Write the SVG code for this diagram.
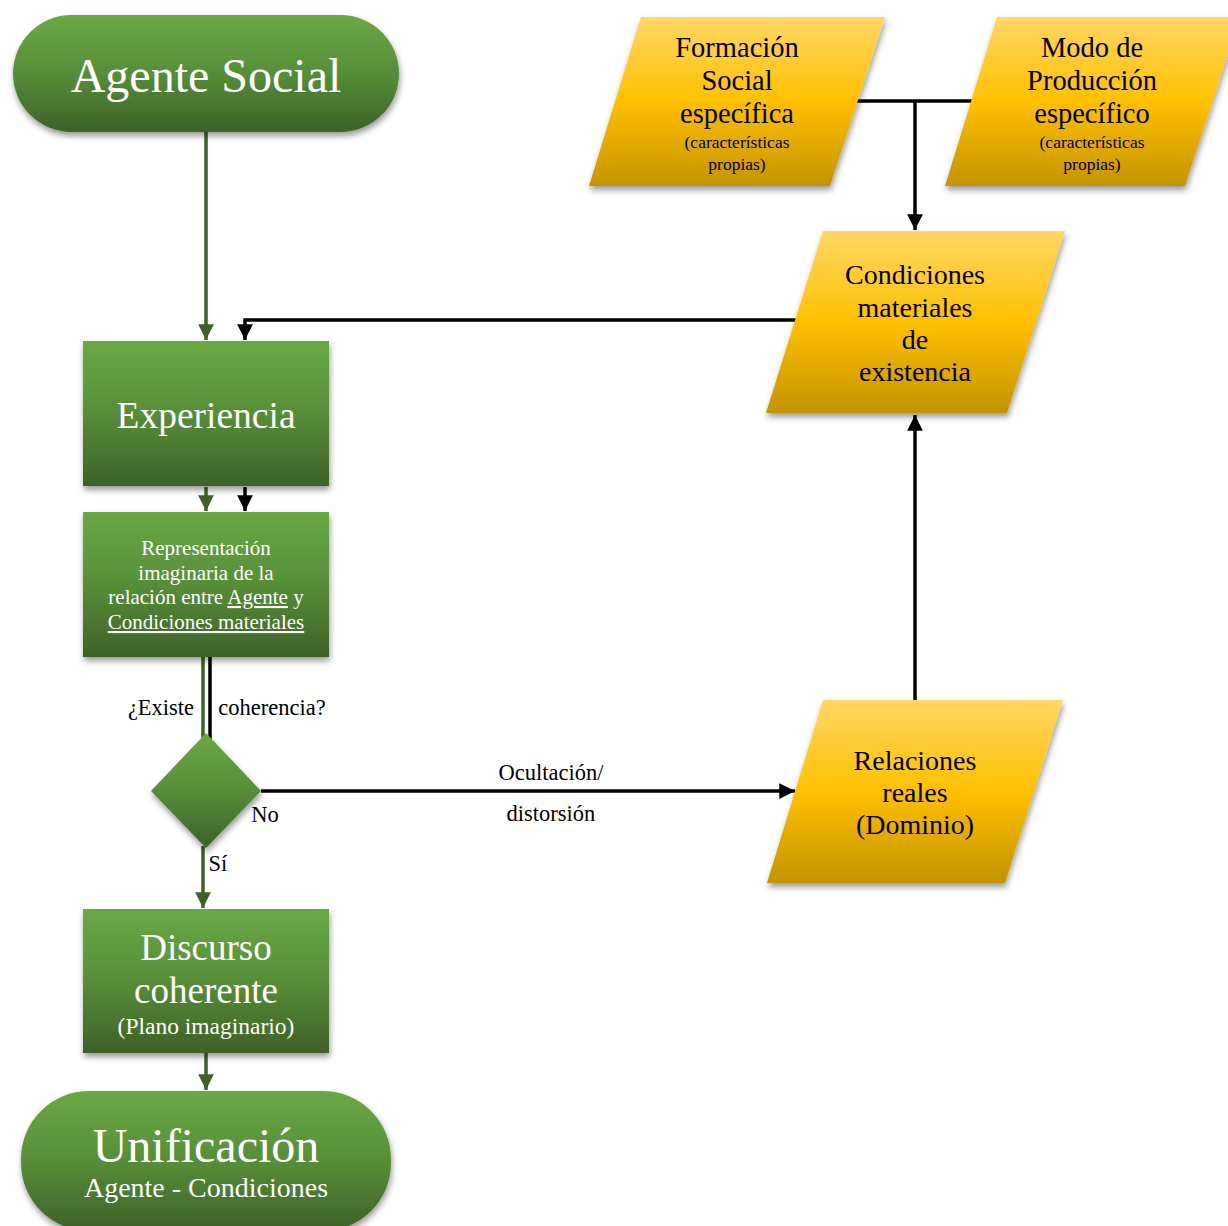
<svg xmlns="http://www.w3.org/2000/svg" width="1228" height="1226" viewBox="0 0 1228 1226">
<style>
text{font-family:"Liberation Serif","Times New Roman",serif;text-anchor:middle}
.w{fill:#ffffff}
.k{fill:#000000}
.g{fill:url(#gg);filter:url(#sh)}
.y{fill:url(#gy);filter:url(#sh)}
.cg{stroke:#3e6128;stroke-width:3.5;fill:none}
.ck{stroke:#000000;stroke-width:3.5;fill:none}
.lb{font-size:22.5px}
.yt{font-size:28.5px}
.ys{font-size:17.5px}
</style>
<defs>
<linearGradient id="gg" x1="0" y1="0" x2="0" y2="1">
<stop offset="0" stop-color="#6aa845"/><stop offset="0.5" stop-color="#568e38"/><stop offset="1" stop-color="#3e6128"/>
</linearGradient>
<linearGradient id="gy" x1="0" y1="0" x2="0" y2="1">
<stop offset="0" stop-color="#ffd766"/><stop offset="0.5" stop-color="#ffc000"/><stop offset="1" stop-color="#c49300"/>
</linearGradient>
<filter id="sh" x="-20%" y="-20%" width="140%" height="150%">
<feDropShadow dx="1" dy="4" stdDeviation="3" flood-color="#000" flood-opacity="0.4"/>
</filter>
<marker id="ag" viewBox="0 0 10 10" refX="10" refY="5" markerWidth="4.5" markerHeight="4.5" orient="auto" markerUnits="strokeWidth">
<path d="M0,0 L10,5 L0,10 z" fill="#3e6128"/>
</marker>
<marker id="ak" viewBox="0 0 10 10" refX="10" refY="5" markerWidth="4.5" markerHeight="4.5" orient="auto" markerUnits="strokeWidth">
<path d="M0,0 L10,5 L0,10 z" fill="#000"/>
</marker>
</defs>

<g id="connectors">
<path class="cg" d="M206,132 V340" marker-end="url(#ag)"/>
<path class="ck" d="M796,320 H245 V340" marker-end="url(#ak)"/>
<path class="cg" d="M206,487 V511" marker-end="url(#ag)"/>
<path class="ck" d="M245,487 V511" marker-end="url(#ak)"/>
<path class="cg" d="M203,657 V740"/>
<path class="ck" d="M210,657 V740"/>
<path class="ck" d="M261,791 H795" marker-end="url(#ak)"/>
<path class="cg" d="M203,846 V908" marker-end="url(#ag)"/>
<path class="cg" d="M206,1053 V1090" marker-end="url(#ag)"/>
<path class="ck" d="M856,101 H976"/>
<path class="ck" d="M915,101 V230" marker-end="url(#ak)"/>
<path class="ck" d="M915,700 V415" marker-end="url(#ak)"/>
<text class="k lb" x="551" y="780">Ocultación/</text>
<text class="k lb" x="551" y="821">distorsión</text>
<text class="k lb" x="161" y="715">¿Existe</text>
<text class="k lb" x="272" y="715">coherencia?</text>
<text class="k lb" x="265" y="822">No</text>
<text class="k lb" x="218" y="871">Sí</text>
</g>

<g id="agente-social">
<rect class="g" x="13" y="15" width="386" height="117" rx="58.5"/>
<text class="w" x="206" y="92" font-size="48">Agente Social</text>
</g>

<g id="experiencia">
<rect class="g" x="83" y="341" width="246" height="145"/>
<text class="w" x="206" y="428" font-size="37.5">Experiencia</text>
</g>

<g id="representacion">
<rect class="g" x="83" y="512" width="246" height="145"/>
<text class="w" x="206" y="555" font-size="21">Representación</text>
<text class="w" x="206" y="580" font-size="21">imaginaria de la</text>
<text class="w" x="206" y="604" font-size="21">relación entre <tspan text-decoration="underline">Agente</tspan> y</text>
<text class="w" x="206" y="629" font-size="21" text-decoration="underline">Condiciones materiales</text>
</g>

<g id="decision">
<polygon class="g" points="206,733 261,791 206,848 151,791"/>
</g>

<g id="discurso">
<rect class="g" x="83" y="909" width="246" height="144"/>
<text class="w" x="206" y="960" font-size="37">Discurso</text>
<text class="w" x="206" y="1003" font-size="37">coherente</text>
<text class="w" x="206" y="1034" font-size="23.5">(Plano imaginario)</text>
</g>

<g id="unificacion">
<rect class="g" x="21" y="1091" width="370" height="140" rx="68"/>
<text class="w" x="206" y="1162" font-size="48">Unificación</text>
<text class="w" x="206" y="1197" font-size="28">Agente - Condiciones</text>
</g>

<g id="formacion-social">
<polygon class="y" points="641,17 885,17 830,186 589,186"/>
<text class="k yt" x="737" y="57">Formación</text>
<text class="k yt" x="737" y="90">Social</text>
<text class="k yt" x="737" y="123">específica</text>
<text class="k ys" x="737" y="148">(características</text>
<text class="k ys" x="737" y="170">propias)</text>
</g>

<g id="modo-produccion">
<polygon class="y" points="997,17 1240,17 1185,186 945,186"/>
<text class="k yt" x="1092" y="57">Modo de</text>
<text class="k yt" x="1092" y="90">Producción</text>
<text class="k yt" x="1092" y="123">específico</text>
<text class="k ys" x="1092" y="148">(características</text>
<text class="k ys" x="1092" y="170">propias)</text>
</g>

<g id="condiciones-materiales">
<polygon class="y" points="823,231 1065,231 1007,413 766,413"/>
<text class="k" x="915" y="284" font-size="28">Condiciones</text>
<text class="k" x="915" y="317" font-size="28">materiales</text>
<text class="k" x="915" y="349" font-size="28">de</text>
<text class="k" x="915" y="381" font-size="28">existencia</text>
</g>

<g id="relaciones-reales">
<polygon class="y" points="823,700 1063,700 1005,883 767,883"/>
<text class="k" x="915" y="770" font-size="28">Relaciones</text>
<text class="k" x="915" y="802" font-size="28">reales</text>
<text class="k" x="915" y="834" font-size="28">(Dominio)</text>
</g>
</svg>
